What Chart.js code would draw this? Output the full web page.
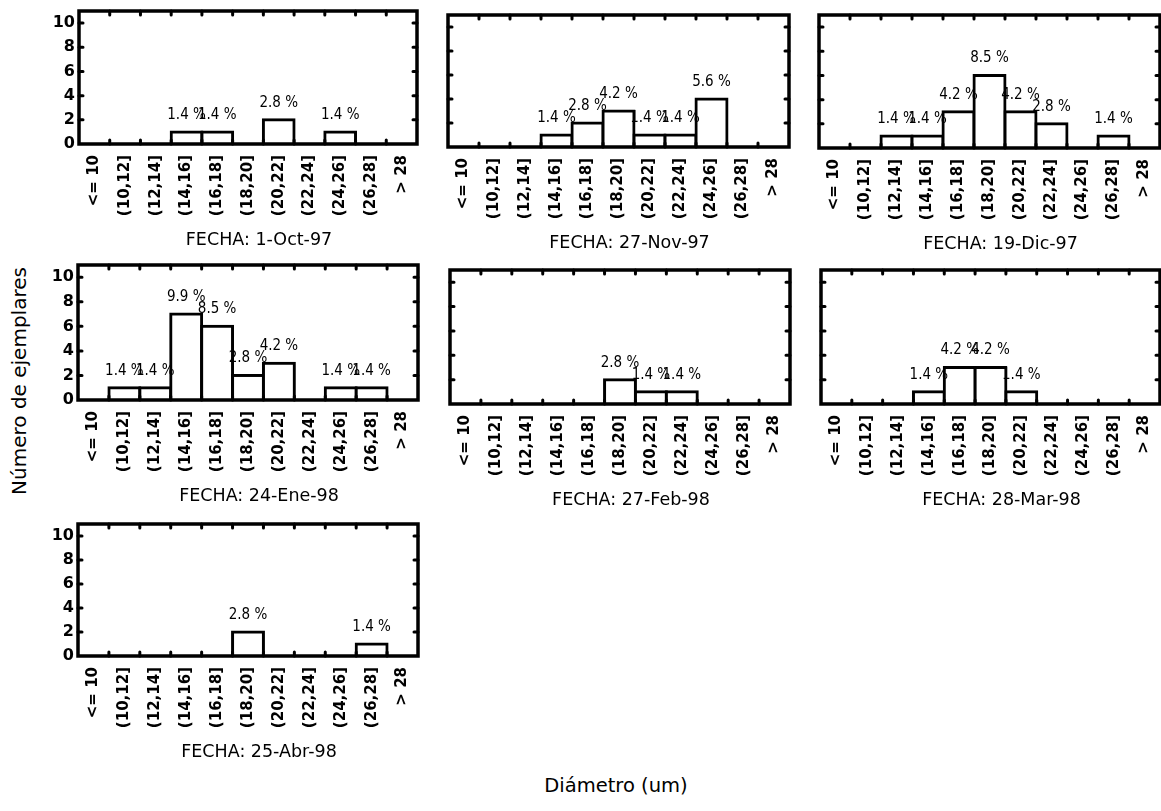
<!DOCTYPE html>
<html>
<head>
<meta charset="utf-8">
<script src="https://cdn.jsdelivr.net/npm/chart.js@4.4.0/dist/chart.umd.min.js"></script>
<style>
  html, body { margin: 0; padding: 0; background: #fff; }
  #page { position: relative; width: 1161px; height: 811px; overflow: hidden; background: #fff; }
  #page canvas { position: absolute; }
  .axis-title {
    position: absolute; font-family: 'DejaVu Sans', sans-serif; color: #000;
    white-space: nowrap; line-height: 1;
  }
  #ytitle { left: 18.5px; top: 381px; font-size: 20px; transform: translate(-50%, -50%) rotate(-90deg); }
  #xtitle { left: 616px; top: 786px; font-size: 19.5px; transform: translate(-50%, -50%); }
</style>
</head>
<body>
<div id="page">
  <div class="axis-title" id="ytitle">Número de ejemplares</div>
  <div class="axis-title" id="xtitle">Diámetro (um)</div>
</div>
<script>
// Diameter classes (um)
const classes = ['<= 10', '(10,12]', '(12,14]', '(14,16]', '(16,18]', '(18,20]',
                 '(20,22]', '(22,24]', '(24,26]', '(26,28]', '> 28'];

// Sampling dates
const fechas = ['1-Oct-97', '27-Nov-97', '19-Dic-97', '24-Ene-98', '27-Feb-98', '28-Mar-98', '25-Abr-98'];

// Number of specimens per diameter class, one array per sampling date
const oct97 = [0, 0, 0, 1, 1, 0, 2, 0, 1, 0, 0];
const nov97 = [0, 0, 0, 1, 2, 3, 1, 1, 4, 0, 0];
const dic97 = [0, 0, 1, 1, 3, 6, 3, 2, 0, 1, 0];
const ene98 = [0, 1, 1, 7, 6, 2, 3, 0, 1, 1, 0];
const feb98 = [0, 0, 0, 0, 0, 2, 1, 1, 0, 0, 0];
const mar98 = [0, 0, 0, 1, 3, 3, 1, 0, 0, 0, 0];
const abr98 = [0, 0, 0, 0, 0, 2, 0, 0, 0, 1, 0];

// Count axis
const yTicks = [0, 2, 4, 6, 8, 10];
const yMax = 11;

const series = [oct97, nov97, dic97, ene98, feb98, mar98, abr98];
// Percentages are relative to all specimens of the whole sampling period
const total = series.reduce((s, arr) => s + arr.reduce((a, b) => a + b, 0), 0);
const pctText = c => (c / total * 100).toFixed(1) + ' %';

// Plot-area rectangles of the seven panels on the page: [left, top, right, bottom]
const areas = [
  [79, 11, 417, 144],
  [448, 15, 789, 147],
  [819, 15, 1160, 148],
  [78, 265, 418, 400],
  [450, 270, 790, 404],
  [821, 270, 1160, 404],
  [78, 524, 418, 656]
];
const withYLabels = [true, false, false, true, false, false, true];

const tickFont = { family: 'DejaVu Sans', size: 15, weight: 'bold' };

// Frame, inward tick marks, percentage labels and date caption
const panelDecor = {
  id: 'panelDecor',
  afterDatasetsDraw(chart, args, opts) {
    const { ctx, chartArea: a, scales: { x, y } } = chart;
    ctx.save();
    ctx.strokeStyle = '#000';
    ctx.fillStyle = '#000';

    ctx.lineWidth = 3;
    ctx.lineCap = 'round';
    ctx.beginPath();
    const n = x.getLabels().length;
    for (let i = 1; i < n; i++) {
      const bx = (x.getPixelForValue(i - 1) + x.getPixelForValue(i)) / 2;
      ctx.moveTo(bx, a.top); ctx.lineTo(bx, a.top + 4);
      ctx.moveTo(bx, a.bottom); ctx.lineTo(bx, a.bottom - 4);
    }
    yTicks.forEach(v => {
      if (v === 0) return;
      const py = y.getPixelForValue(v);
      ctx.moveTo(a.left, py); ctx.lineTo(a.left + 4, py);
      ctx.moveTo(a.right, py); ctx.lineTo(a.right - 4, py);
    });
    ctx.stroke();

    ctx.lineCap = 'butt';
    ctx.lineWidth = 3.5;
    ctx.strokeRect(a.left, a.top, a.right - a.left, a.bottom - a.top);

    const counts = chart.data.datasets[0].data;
    const meta = chart.getDatasetMeta(0);
    ctx.font = "15px 'Liberation Sans Narrow', 'DejaVu Sans Condensed', 'Liberation Sans', sans-serif";
    ctx.textAlign = 'center';
    ctx.textBaseline = 'alphabetic';
    meta.data.forEach((bar, i) => {
      const c = counts[i];
      if (!c) return;
      ctx.fillText(pctText(c), bar.x, bar.y - 13);
    });

    ctx.font = "17.5px 'DejaVu Sans', sans-serif";
    ctx.textBaseline = 'middle';
    ctx.fillText('FECHA: ' + opts.fecha, (a.left + a.right) / 2 + 11, a.bottom + 96);
    ctx.restore();
  }
};

const page = document.getElementById('page');

series.forEach((counts, k) => {
  const [L, T, R, B] = areas[k];
  const yw = withYLabels[k] ? 45 : 8;
  const left = L - yw;
  const top = T - 8;
  const right = Math.min(R + 4, 1161);
  const bottomSpace = 115;
  const bottom = B + bottomSpace;

  const canvas = document.createElement('canvas');
  canvas.width = right - left;
  canvas.height = bottom - top;
  canvas.style.left = left + 'px';
  canvas.style.top = top + 'px';
  page.appendChild(canvas);

  new Chart(canvas, {
    type: 'bar',
    data: {
      labels: classes,
      datasets: [{
        data: counts.map(v => v || null),
        backgroundColor: '#fff',
        borderColor: '#000',
        borderWidth: 3,
        inflateAmount: 1.5,
        barPercentage: 1,
        categoryPercentage: 1
      }]
    },
    options: {
      responsive: false,
      animation: false,
      events: [],
      layout: { padding: { top: 8, right: right - R, left: 0, bottom: 0 } },
      plugins: {
        legend: { display: false },
        tooltip: { enabled: false },
        panelDecor: { fecha: fechas[k] }
      },
      scales: {
        x: {
          offset: true,
          grid: { display: false, drawTicks: false },
          border: { display: false },
          ticks: {
            autoSkip: false, minRotation: 90, maxRotation: 90,
            padding: 11, color: '#000', font: tickFont
          },
          afterFit: s => {
            s.height = bottomSpace;
            s.paddingLeft = 0; s.paddingRight = 0;
          }
        },
        y: {
          min: 0, max: yMax,
          grid: { display: false, drawTicks: false },
          border: { display: false },
          ticks: {
            display: withYLabels[k], padding: 4, color: '#000',
            font: { family: 'DejaVu Sans', size: 16, weight: 'bold' }
          },
          afterBuildTicks: s => { s.ticks = yTicks.map(v => ({ value: v })); },
          afterFit: s => {
            s.width = yw;
            s.paddingTop = 0; s.paddingBottom = 0;
          }
        }
      }
    },
    plugins: [panelDecor]
  });
});
</script>
</body>
</html>
